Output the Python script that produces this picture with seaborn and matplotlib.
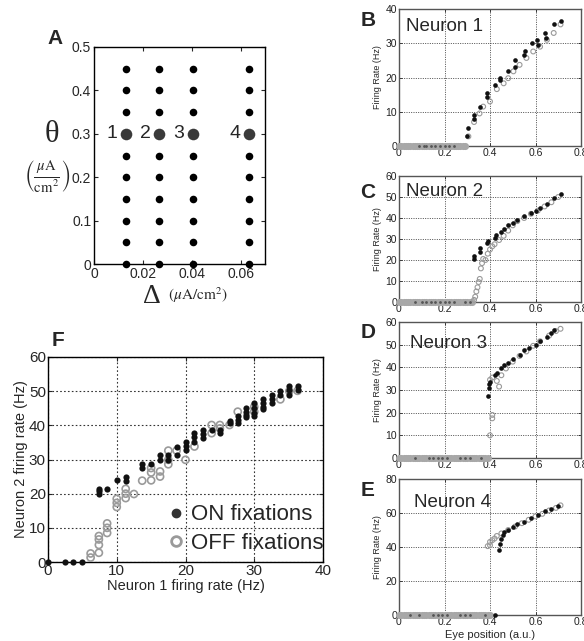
import numpy as np
import pandas as pd
import matplotlib
matplotlib.use("Agg")
import matplotlib.pyplot as plt
import seaborn as sns
from matplotlib.lines import Line2D

# ---------------- data ----------------
# Panel A: parameter grid
delta_vals = [0.0131, 0.0266, 0.0405, 0.0634]
theta_vals = [0.0, 0.05, 0.10, 0.15, 0.20, 0.25, 0.35, 0.40, 0.45]
theta_sel = 0.30
neuron_ids = ["1", "2", "3", "4"]

# Panels B-E: firing rate vs eye position
n1_on_x = [0.30, 0.305, 0.33, 0.33, 0.354, 0.386, 0.386, 0.423, 0.445, 0.445, 0.48, 0.51, 0.51,
           0.548, 0.555, 0.585, 0.606, 0.61, 0.643, 0.645, 0.68, 0.71]
n1_on_y = [2.8, 5.3, 8.0, 9.0, 11.3, 14.4, 15.4, 17.8, 20.0, 19.3, 21.8, 23.2, 25.0,
           26.7, 27.6, 30.0, 31.0, 29.6, 33.0, 31.5, 35.5, 36.5]
n1_off_x = [0.305, 0.33, 0.354, 0.37, 0.40, 0.43, 0.46, 0.48, 0.503, 0.53, 0.56, 0.59, 0.62,
            0.65, 0.68, 0.71]
n1_off_y = [2.8, 7.0, 9.5, 11.5, 13.0, 16.6, 18.3, 19.8, 21.8, 23.7, 25.7, 27.6, 29.0,
            31.0, 33.0, 35.5]
n1_zero_off = [0.00, 0.01, 0.02, 0.03, 0.04, 0.05, 0.06, 0.07, 0.08, 0.09, 0.10, 0.11, 0.12,
               0.13, 0.14, 0.15, 0.16, 0.17, 0.18, 0.19, 0.20, 0.21, 0.22, 0.23, 0.24, 0.25,
               0.26, 0.27, 0.28, 0.29]
n1_zero_on = [0.09, 0.11, 0.12, 0.14, 0.16, 0.18, 0.20, 0.22, 0.24]

n2_on_x = [0.33, 0.33, 0.355, 0.355, 0.385, 0.39, 0.42, 0.425, 0.45, 0.46, 0.48, 0.50, 0.52,
           0.55, 0.58, 0.60, 0.62, 0.65, 0.68, 0.71]
n2_on_y = [20.5, 22.0, 24.0, 25.5, 28.0, 29.0, 30.5, 32.0, 33.5, 35.0, 36.5, 37.5, 39.0,
           41.0, 42.5, 43.5, 45.0, 46.5, 49.5, 51.5]
n2_off_x = [0.33, 0.335, 0.34, 0.345, 0.35, 0.355, 0.36, 0.365, 0.37, 0.38, 0.39, 0.40, 0.41,
            0.42, 0.44, 0.46, 0.48, 0.50, 0.52, 0.55, 0.58, 0.61, 0.64, 0.67, 0.70]
n2_off_y = [1.0, 2.5, 5.0, 7.0, 9.5, 11.0, 16.0, 18.5, 20.5, 20.0, 23.0, 25.0, 26.5,
            27.5, 29.5, 31.5, 34.0, 36.5, 38.5, 40.0, 42.0, 43.5, 45.5, 47.5, 50.0]
n2_zero_off = [0.00, 0.01, 0.02, 0.03, 0.04, 0.05, 0.06, 0.07, 0.08, 0.09, 0.10, 0.11, 0.12,
               0.13, 0.14, 0.15, 0.16, 0.17, 0.18, 0.19, 0.20, 0.21, 0.22, 0.23, 0.24, 0.25,
               0.26, 0.27, 0.28, 0.29, 0.30, 0.31, 0.32]
n2_zero_on = [0.07, 0.10, 0.12, 0.14, 0.16, 0.18, 0.20, 0.22, 0.24, 0.29, 0.31]

n3_on_x = [0.39, 0.395, 0.395, 0.40, 0.42, 0.43, 0.45, 0.46, 0.48, 0.50, 0.53, 0.55, 0.57,
           0.60, 0.62, 0.65, 0.67, 0.68]
n3_on_y = [27.5, 31.0, 32.5, 33.5, 36.5, 37.5, 39.5, 41.0, 42.0, 43.5, 45.5, 47.5, 48.5,
           50.0, 51.5, 53.5, 55.0, 56.5]
n3_off_x = [0.40, 0.41, 0.41, 0.40, 0.41, 0.43, 0.44, 0.45, 0.47, 0.50, 0.53, 0.56, 0.59,
            0.62, 0.66, 0.69, 0.71]
n3_off_y = [10.0, 17.5, 19.0, 34.5, 35.5, 34.0, 31.5, 36.5, 39.5, 42.5, 45.0, 47.0, 49.5,
            51.5, 54.0, 56.0, 57.0]
n3_zero_off = [0.00, 0.01, 0.02, 0.03, 0.04, 0.05, 0.06, 0.07, 0.08, 0.09, 0.10, 0.11, 0.12,
               0.13, 0.14, 0.15, 0.16, 0.17, 0.18, 0.19, 0.20, 0.21, 0.22, 0.23, 0.24, 0.25,
               0.26, 0.27, 0.28, 0.29, 0.30, 0.31, 0.32, 0.33, 0.34, 0.35, 0.36, 0.37, 0.38,
               0.39]
n3_zero_on = [0.07, 0.13, 0.15, 0.17, 0.19, 0.21, 0.27, 0.29, 0.31, 0.36]

n4_on_x = [0.42, 0.44, 0.445, 0.45, 0.455, 0.46, 0.48, 0.50, 0.52, 0.55, 0.58, 0.61, 0.64,
           0.67, 0.70]
n4_on_y = [0.0, 38.0, 42.0, 44.5, 47.0, 49.0, 50.0, 52.0, 53.5, 55.0, 57.0, 59.0, 61.0,
           62.5, 64.0]
n4_off_x = [0.39, 0.40, 0.40, 0.41, 0.42, 0.43, 0.45, 0.48, 0.51, 0.54, 0.57, 0.60, 0.63,
            0.66, 0.69, 0.71]
n4_off_y = [40.5, 41.0, 43.0, 44.0, 45.0, 46.5, 48.0, 50.0, 52.0, 54.0, 56.0, 58.0, 59.5,
            61.5, 63.0, 64.5]
n4_zero_off = [0.00, 0.01, 0.02, 0.03, 0.04, 0.05, 0.06, 0.07, 0.08, 0.09, 0.10, 0.11, 0.12,
               0.13, 0.14, 0.15, 0.16, 0.17, 0.18, 0.19, 0.20, 0.21, 0.22, 0.23, 0.24, 0.25,
               0.26, 0.27, 0.28, 0.29, 0.30, 0.31, 0.32, 0.33, 0.34, 0.35, 0.36, 0.37, 0.38,
               0.39, 0.40]
n4_zero_on = [0.05, 0.09, 0.15, 0.17, 0.19, 0.21, 0.27, 0.29, 0.31, 0.38]

# Panel F: neuron 2 rate vs neuron 1 rate
f_on_x = [0.0, 2.5, 3.7, 5.0, 7.4, 7.4, 7.4, 8.6, 10.0, 11.3, 11.3, 13.7, 13.7, 15.0,
          16.3, 16.3, 17.5, 17.5, 18.7, 18.7, 20.0, 20.0, 20.0, 21.3, 21.3, 21.3,
          22.6, 22.6, 22.6, 23.8, 25.0, 25.0, 26.4, 26.4, 27.6, 27.6, 27.6,
          28.8, 28.8, 28.8, 28.8, 30.0, 30.0, 30.0, 30.0, 31.3, 31.3, 31.3, 31.3,
          32.6, 32.6, 32.6, 33.8, 33.8, 35.1, 35.1, 35.1, 36.3, 36.3]
f_on_y = [0.0, 0.0, 0.0, 0.0, 21.5, 20.7, 19.9, 21.5, 23.9, 25.0, 23.8, 28.7, 27.5, 28.7,
          31.4, 29.9, 31.4, 29.9, 33.8, 31.4, 35.1, 34.0, 32.8, 37.7, 36.5, 35.2,
          38.6, 37.5, 36.2, 38.6, 38.6, 37.7, 41.4, 40.6, 42.7, 41.7, 40.8,
          45.0, 44.0, 43.0, 42.3, 46.4, 45.0, 43.7, 42.7, 47.6, 46.4, 45.4, 44.8,
          48.8, 47.6, 46.4, 50.1, 48.8, 51.5, 50.3, 48.8, 51.5, 50.3]
f_off_x = [6.2, 6.2, 7.4, 7.4, 7.4, 7.4, 8.6, 8.6, 8.6, 10.0, 10.0, 10.0, 11.3, 11.3, 11.3,
           12.5, 13.7, 15.0, 15.0, 15.0, 16.3, 16.3, 17.5, 17.5, 17.5, 18.7, 20.0, 21.3,
           23.8, 23.8, 25.0, 25.0, 26.4, 27.6, 30.0, 30.0, 33.8, 35.1, 36.3]
f_off_y = [2.5, 1.3, 7.6, 6.6, 5.0, 2.7, 11.3, 10.0, 8.5, 18.5, 17.3, 16.1, 21.4, 20.0, 18.7,
           19.9, 23.8, 27.5, 26.2, 23.9, 26.5, 25.0, 32.6, 29.9, 28.6, 32.6, 29.9, 33.8,
           40.1, 37.7, 40.1, 39.1, 40.1, 44.0, 45.4, 44.0, 47.6, 50.0, 50.1]

# ---------------- style ----------------
sns.set_theme(style="ticks")
plt.rcParams["font.family"] = ["Liberation Sans", "DejaVu Sans"]
plt.rcParams["mathtext.fontset"] = "stix"
plt.rcParams["xtick.direction"] = "in"
plt.rcParams["ytick.direction"] = "in"
plt.rcParams["xtick.top"] = True
plt.rcParams["ytick.right"] = True

W, H = 584, 641
fig = plt.figure(figsize=(W / 100, H / 100), dpi=100)


def box(l, t, r, b):
    return [l / W, 1 - b / H, (r - l) / W, (b - t) / H]


ON_C = "#111111"
OFF_C = "#9a9a9a"

# ---------------- Panel A ----------------
axA = fig.add_axes(box(94, 47, 265, 264))
grid_df = pd.DataFrame([(d, t) for d in delta_vals for t in theta_vals], columns=["delta", "theta"])
sel_df = pd.DataFrame({"delta": delta_vals, "theta": [theta_sel] * len(delta_vals)})
sns.scatterplot(data=grid_df, x="delta", y="theta", ax=axA, color="black", s=30,
                edgecolor="black", linewidth=0, zorder=3, clip_on=False)
sns.scatterplot(data=sel_df, x="delta", y="theta", ax=axA, color="#3a3a3a", s=70,
                edgecolor="#3a3a3a", linewidth=0, zorder=3)
for d, lab in zip(delta_vals, neuron_ids):
    axA.annotate(lab, (d, theta_sel), xytext=(-10, 0), textcoords="offset points",
                 ha="center", va="center", fontsize=14)
axA.set_xlim(0, 0.07)
axA.set_ylim(0, 0.5)
axA.set_xticks([0, 0.02, 0.04, 0.06])
axA.set_xticklabels(["0", "0.02", "0.04", "0.06"])
axA.set_yticks([0, 0.1, 0.2, 0.3, 0.4, 0.5])
axA.set_yticklabels(["0", "0.1", "0.2", "0.3", "0.4", "0.5"])
axA.tick_params(labelsize=10, length=3, width=0.8, pad=2)
axA.set_xlabel("")
axA.set_ylabel("")
for s in axA.spines.values():
    s.set_color("black")
    s.set_linewidth(1.0)
fig.text(52 / W, 1 - 135 / H, "θ", fontsize=22, family="Liberation Serif", ha="center", va="center")
fig.text(47 / W, 1 - 176 / H, r"$\left(\frac{\mu\mathrm{A}}{\mathrm{cm}^2}\right)$", fontsize=15,
         ha="center", va="center")
fig.text(152 / W, 1 - 297 / H, "Δ", fontsize=20, family="Liberation Serif", ha="center", va="center")
fig.text(198 / W, 1 - 295 / H, r"$(\mu\mathrm{A/cm}^2)$", fontsize=11, ha="center", va="center")
fig.text(55 / W, 1 - 38 / H, "A", fontsize=15, fontweight="bold", ha="center", va="center")

# ---------------- Panels B-E ----------------
panels = [
    ("B", "Neuron 1", box(399, 9, 581, 146), 40, [0, 10, 20, 30, 40],
     n1_on_x, n1_on_y, n1_off_x, n1_off_y, n1_zero_off, n1_zero_on, 20, (0.04, 0.87)),
    ("C", "Neuron 2", box(399, 176, 581, 302), 60, [0, 10, 20, 30, 40, 50, 60],
     n2_on_x, n2_on_y, n2_off_x, n2_off_y, n2_zero_off, n2_zero_on, 193, (0.04, 0.88)),
    ("D", "Neuron 3", box(399, 322, 581, 458), 60, [0, 10, 20, 30, 40, 50, 60],
     n3_on_x, n3_on_y, n3_off_x, n3_off_y, n3_zero_off, n3_zero_on, 332, (0.06, 0.84)),
    ("E", "Neuron 4", box(399, 479, 581, 615), 80, [0, 20, 40, 60, 80],
     n4_on_x, n4_on_y, n4_off_x, n4_off_y, n4_zero_off, n4_zero_on, 490, (0.08, 0.83)),
]

for (lab, title, rect, ymax, yt, onx, ony, offx, offy, zoff, zon, laby, tpos) in panels:
    ax = fig.add_axes(rect)
    ax.grid(True, linestyle=(0, (1.2, 1.6)), color="#333333", linewidth=0.6)
    ax.set_axisbelow(True)
    zdf = pd.DataFrame({"x": zoff, "y": [0.0] * len(zoff)})
    sns.scatterplot(data=zdf, x="x", y="y", ax=ax, color="#a8a8a8", s=26, linewidth=0,
                    zorder=3, clip_on=False)
    zodf = pd.DataFrame({"x": zon, "y": [0.0] * len(zon)})
    sns.scatterplot(data=zodf, x="x", y="y", ax=ax, color="#555555", s=4, linewidth=0,
                    zorder=4, clip_on=False)
    offdf = pd.DataFrame({"x": offx, "y": offy})
    sns.scatterplot(data=offdf, x="x", y="y", ax=ax, color=OFF_C, s=12, linewidth=0.8,
                    edgecolor=OFF_C, zorder=3, clip_on=False)
    ax.collections[-1].set_facecolor("none")
    ondf = pd.DataFrame({"x": onx, "y": ony})
    sns.scatterplot(data=ondf, x="x", y="y", ax=ax, color=ON_C, s=11, linewidth=0,
                    zorder=4, clip_on=False)
    ax.set_xlim(0, 0.8)
    ax.set_ylim(0, ymax)
    ax.set_xticks([0, 0.2, 0.4, 0.6, 0.8])
    ax.set_xticklabels(["0", "0.2", "0.4", "0.6", "0.8"])
    ax.set_yticks(yt)
    ax.set_yticklabels([str(v) for v in yt])
    ax.tick_params(labelsize=7.5, length=2, width=0.6, pad=1.5, colors="#222222")
    ax.set_xlabel("")
    ax.set_ylabel("")
    for s in ax.spines.values():
        s.set_color("#555555")
        s.set_linewidth(1.0)
    ax.text(tpos[0], tpos[1], title, transform=ax.transAxes, fontsize=13.5,
            ha="left", va="center")
    fig.text(368 / W, 1 - laby / H, lab, fontsize=15, fontweight="bold", ha="center", va="center")
    fig.text(378 / W, rect[1] + rect[3] / 2, "Firing Rate (Hz)", fontsize=6.5, rotation=90,
             ha="center", va="center")
    if lab == "E":
        ax.set_xlabel("Eye position (a.u.)", fontsize=8, labelpad=2)

# ---------------- Panel F ----------------
axF = fig.add_axes(box(48, 357, 323, 562))
axF.grid(True, linestyle=(0, (1.5, 2.0)), color="#333333", linewidth=0.8)
axF.set_axisbelow(True)
fon = pd.DataFrame({"n1": f_on_x, "n2": f_on_y})
foff = pd.DataFrame({"n1": f_off_x, "n2": f_off_y})
sns.scatterplot(data=foff, x="n1", y="n2", ax=axF, color=OFF_C, s=26, linewidth=1.2,
                edgecolor=OFF_C, zorder=3, clip_on=False)
axF.collections[-1].set_facecolor("none")
sns.scatterplot(data=fon, x="n1", y="n2", ax=axF, color=ON_C, s=20, linewidth=0,
                zorder=4, clip_on=False)
axF.set_xlim(0, 40)
axF.set_ylim(0, 60)
axF.set_xticks([0, 10, 20, 30, 40])
axF.set_yticks([0, 10, 20, 30, 40, 50, 60])
axF.tick_params(labelsize=11, length=3, width=0.8, pad=1.5)
axF.set_xlabel("Neuron 1 firing rate (Hz)", fontsize=10.5, labelpad=1)
axF.set_ylabel("Neuron 2 firing rate (Hz)", fontsize=10.5, labelpad=1)
for s in axF.spines.values():
    s.set_color("black")
    s.set_linewidth(1.0)
handles = [
    Line2D([], [], marker="o", linestyle="none", markersize=6, markerfacecolor="#333333",
           markeredgecolor="#333333"),
    Line2D([], [], marker="o", linestyle="none", markersize=7, markerfacecolor="none",
           markeredgecolor=OFF_C, markeredgewidth=2),
]
axF.legend(handles, ["ON fixations", "OFF fixations"], loc="center left",
           bbox_to_anchor=(0.40, 0.16), frameon=False, fontsize=16, handlelength=0.8,
           handletextpad=0.3, labelspacing=0.35, borderaxespad=0)
fig.text(58 / W, 1 - 340 / H, "F", fontsize=15, fontweight="bold", ha="center", va="center")

fig.savefig("out.png", dpi=100)
